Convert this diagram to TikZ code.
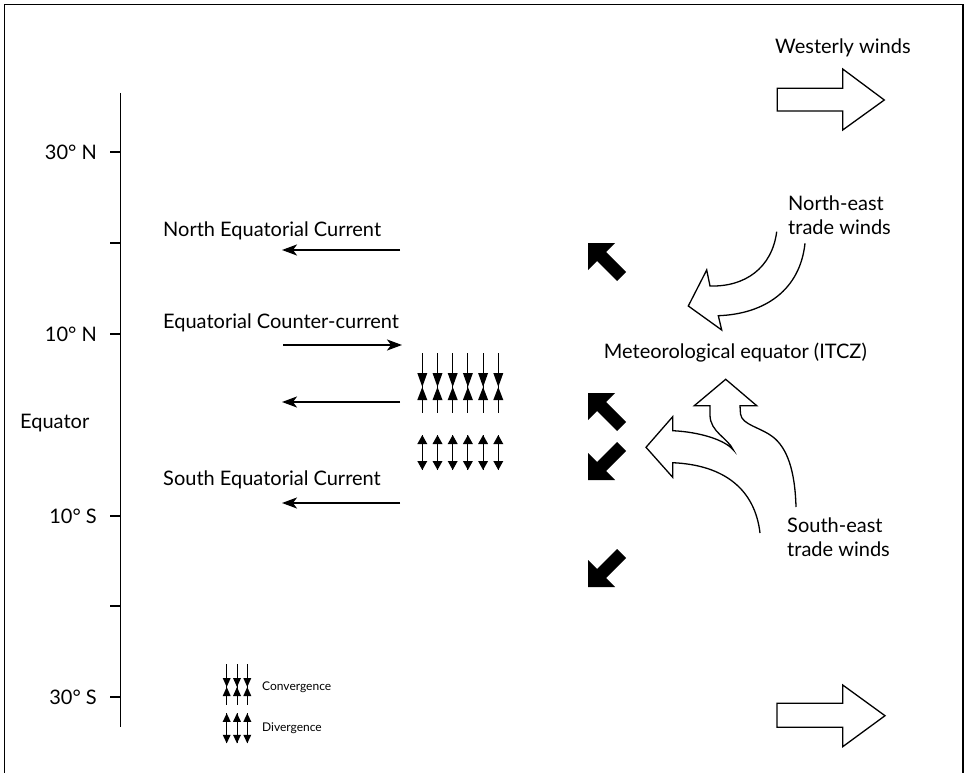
\documentclass[tikz,border=0pt]{standalone}
\usepackage{fontspec}
\setmainfont{Lato}
\usetikzlibrary{arrows.meta}
\tikzset{
  lbl/.style={inner sep=0pt, font=\fontsize{20}{23}\selectfont},
  small/.style={inner sep=0pt, font=\fontsize{12}{14}\selectfont},
  frame/.style={line width=1.5pt},
  axis/.style={line width=1.3pt},
  current/.style={line width=2pt, -{Stealth[length=15pt,width=11pt,inset=4pt]}},
  outline/.style={line width=1.3pt, line join=miter},
  nwarrow/.pic={\fill (0,0) -- (27,0) -- (18,9) -- (38,29) -- (29,38) -- (9,18) -- (0,27) -- cycle;},
  convmark/.pic={
    \draw[line width=1pt] (0,-34) -- (0,26);
    \fill (-5,-14) -- (5,-14) -- (0,0) -- cycle;
    \fill (-5,13) -- (5,13) -- (0,0) -- cycle;},
  divmark/.pic={
    \draw[line width=1pt] (0,0) -- (0,35);
    \fill (0,0) -- (-5,9) -- (5,9) -- cycle;
    \fill (0,35) -- (-5,26) -- (5,26) -- cycle;},
  sconvmark/.pic={
    \draw[line width=0.8pt] (0,-23) -- (0,18);
    \fill (-4,-9) -- (4,-9) -- (0,0) -- cycle;
    \fill (-4,9) -- (4,9) -- (0,0) -- cycle;},
  sdivmark/.pic={
    \draw[line width=0.8pt] (0,0) -- (0,30);
    \fill (0,0) -- (-4,8.5) -- (4,8.5) -- cycle;
    \fill (0,30) -- (-4,21.5) -- (4,21.5) -- cycle;}
}
\begin{document}
\begin{tikzpicture}[x=1pt,y=-1pt]
\useasboundingbox (0,0) rectangle (964,773);
% frame (bottom edge outside the picture)
\draw[frame] (4.5,773) -- (4.5,4.5) -- (963,4.5) -- (963,773);

% latitude axis
\coordinate (axtop) at (120.5,93);
\coordinate (axbot) at (120.5,727);
\draw[axis] (axtop) -- (axbot);
\foreach \y in {152,243,334,516,606,697}{
  \draw[axis] (110,\y) -- (120.5,\y);
}
\node[lbl, anchor=east] (n30) at (97,152) {30° N};
\node[lbl, anchor=east] (n10) at (97,334) {10° N};
\node[lbl, anchor=west] (eq) at (20,423) {Equator};
\node[lbl, anchor=east] (s10) at (97,516) {10° S};
\node[lbl, anchor=east] (s30) at (97,697) {30° S};

% ocean currents
\node[lbl, anchor=west] (nec) at (163,231) {North Equatorial Current};
\node[lbl, anchor=west] (ecc) at (163,323) {Equatorial Counter-current};
\node[lbl, anchor=west] (sec) at (163,480) {South Equatorial Current};
\coordinate (a1s) at (400,250); \coordinate (a1e) at (282,250);
\coordinate (a2s) at (283,345); \coordinate (a2e) at (402,345);
\coordinate (a3s) at (400,402); \coordinate (a3e) at (282,402);
\coordinate (a4s) at (400,503); \coordinate (a4e) at (282,503);
\draw[current] (a1s) -- (a1e);
\draw[current] (a2s) -- (a2e);
\draw[current] (a3s) -- (a3e);
\draw[current] (a4s) -- (a4e);

% convergence / divergence marks
\foreach \i in {0,...,5}{
  \pic at ({422.3+15.2*\i},387) {convmark};
  \pic at ({422.3+15.2*\i},435) {divmark};
}

% legend
\foreach \i in {0,1,2}{
  \pic at ({226.7+10.3*\i},687) {sconvmark};
  \pic at ({226.7+10.3*\i},713.3) {sdivmark};
}
\node[small, anchor=west] (conv) at (262,687) {Convergence};
\node[small, anchor=west] (div) at (262,728) {Divergence};

% black wind arrows
\pic at (588,243) {nwarrow};
\pic at (588,393) {nwarrow};
\pic[yscale=-1] at (588,480) {nwarrow};
\pic[yscale=-1] at (588,587) {nwarrow};

% westerly winds
\node[lbl, anchor=west] (ww) at (775,48) {Westerly winds};
\draw[outline] (777.3,88.3) -- (842.7,88.3) -- (842.7,69) -- (884.3,100) -- (842.7,130) -- (842.7,111) -- (777.3,111) -- cycle;
\draw[outline] (777,703.3) -- (842.7,703.3) -- (842.7,685) -- (885,715.7) -- (842.7,746.7) -- (842.7,727.3) -- (777,727.3) -- cycle;

% north-east trades
\node[lbl, anchor=west] (ne1) at (788,203) {North-east};
\node[lbl, anchor=west] (ne2) at (788,227) {trade winds};
\draw[outline] (776.7,231.7) .. controls (772,268) and (745,287) .. (710,286)
  -- (706.7,270) -- (688.3,306) -- (721.7,330) -- (718.3,315.7)
  .. controls (765,314) and (800,290) .. (805,243.3);

% ITCZ
\node[lbl, anchor=east] (itcz) at (867,353) {Meteorological equator (ITCZ)};

% south-east trades
\node[lbl, anchor=west] (se1) at (787,525) {South-east};
\node[lbl, anchor=west] (se2) at (787,549) {trade winds};
\draw[outline] (760,533) .. controls (755,490) and (725,465) .. (672.7,462.7)
  -- (672.7,477.3) -- (646,447.3) -- (672.7,416.7) -- (672.7,430.7)
  .. controls (700,432) and (725,440) .. (733.3,450)
  .. controls (728,438) and (710,432) .. (710,415) -- (710,405.7)
  -- (694.3,405.7) -- (725.7,379.3) -- (756.7,405.7) -- (740,405.7) -- (740.5,414)
  .. controls (742,425) and (760,427) .. (773,437)
  .. controls (787,448) and (795,470) .. (796,507);
\end{tikzpicture}
\end{document}
